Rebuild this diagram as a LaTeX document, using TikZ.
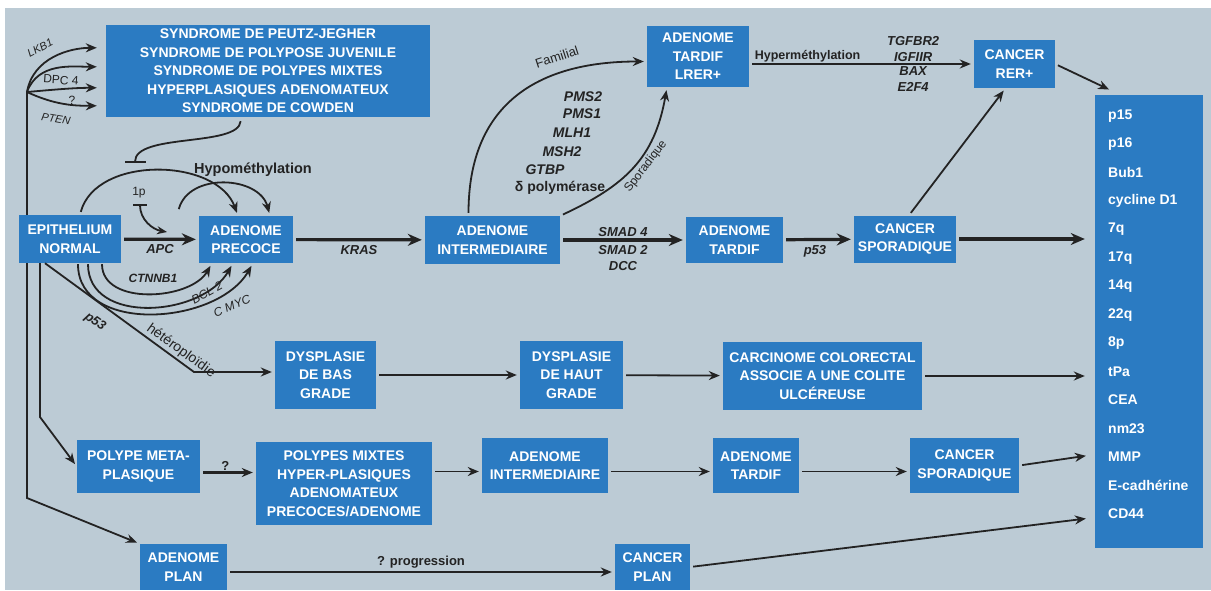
\documentclass[tikz,border=0pt]{standalone}
\usepackage{fontspec}
\setmainfont{Liberation Sans}
\usetikzlibrary{arrows.meta}
\definecolor{bgblue}{HTML}{BCCBD5}
\definecolor{boxblue}{HTML}{2B7BC2}
\definecolor{ink}{HTML}{232323}
\tikzset{stage/.style={fill=boxblue,text=white,align=center,inner sep=0pt,font=\fontsize{14}{18.5}\selectfont\bfseries}}
\tikzset{gene/.style={text=ink,align=center,inner sep=1pt,font=\fontsize{13}{16}\selectfont\bfseries\itshape}}
\tikzset{tag/.style={text=ink,inner sep=1pt,font=\fontsize{13}{16}\selectfont\bfseries}}
\tikzset{note/.style={text=ink,inner sep=1pt,font=\fontsize{12}{14}\selectfont}}
\tikzset{marker/.style={text=white,anchor=west,inner sep=0pt,font=\fontsize{14}{16}\selectfont\bfseries}}
\tikzset{transition/.style={color=ink,line width=1.8pt,-{Stealth[length=11pt,width=9pt]},shorten <=3pt,shorten >=3pt}}
\tikzset{major/.style={transition,line width=3.2pt,-{Stealth[length=14pt,width=12pt]}}}
\tikzset{inhibit/.style={color=ink,line width=1.8pt,-{Bar[width=21pt]}}}

\begin{document}
\begin{tikzpicture}[x=1pt,y=1pt]
  \useasboundingbox (0,0) rectangle (1211,-590);
  \fill[white] (0,0) rectangle (1211,-590);
  \fill[bgblue] (5,-8) rectangle (1211,-590);
  % stades
  \node[stage,minimum width=324pt,minimum height=92pt] (synd) at (268,-71)
    {SYNDROME DE PEUTZ-JEGHER\\SYNDROME DE POLYPOSE JUVENILE\\SYNDROME DE POLYPES MIXTES\\HYPERPLASIQUES ADENOMATEUX\\SYNDROME DE COWDEN};
  \node[stage,minimum width=102pt,minimum height=48pt] (epi) at (70,-239) {EPITHELIUM\\NORMAL};
  \node[stage,minimum width=94pt,minimum height=47pt] (precoce) at (246,-239.5) {ADENOME\\PRECOCE};
  \node[stage,minimum width=135pt,minimum height=48pt] (inter) at (492.5,-240) {ADENOME\\INTERMEDIAIRE};
  \node[stage,minimum width=97pt,minimum height=46pt] (tardif) at (734.5,-240) {ADENOME\\TARDIF};
  \node[stage,minimum width=102pt,minimum height=47pt] (spor) at (905,-239) {CANCER\\SPORADIQUE};
  \node[stage,minimum width=102pt,minimum height=61pt] (lrer) at (698,-56.5) {ADENOME\\TARDIF\\LRER+};
  \node[stage,minimum width=81pt,minimum height=48pt] (rer) at (1014.5,-64) {CANCER\\RER+};
  \node[stage,minimum width=108pt,minimum height=453pt] (col) at (1149,-321.5) {};
  \node[stage,minimum width=101pt,minimum height=68pt] (bas) at (325.5,-375) {DYSPLASIE\\DE BAS\\GRADE};
  \node[stage,minimum width=103pt,minimum height=68pt] (haut) at (571.5,-375) {DYSPLASIE\\DE HAUT\\GRADE};
  \node[stage,minimum width=199pt,minimum height=68pt] (carc) at (822.5,-376) {CARCINOME COLORECTAL\\ASSOCIE A UNE COLITE\\ULCÉREUSE};
  \node[stage,minimum width=123pt,minimum height=53pt] (meta) at (138.5,-466.5) {POLYPE META-\\PLASIQUE};
  \node[stage,minimum width=176pt,minimum height=83pt] (mixtes) at (344,-483.5) {POLYPES MIXTES\\HYPER-PLASIQUES\\ADENOMATEUX\\PRECOCES/ADENOME};
  \node[stage,minimum width=126pt,minimum height=55pt] (inter2) at (545,-465.5) {ADENOME\\INTERMEDIAIRE};
  \node[stage,minimum width=86pt,minimum height=55pt] (tardif2) at (756,-465.5) {ADENOME\\TARDIF};
  \node[stage,minimum width=109pt,minimum height=55pt] (spor2) at (964.5,-465.5) {CANCER\\SPORADIQUE};
  \node[stage,minimum width=87pt,minimum height=46pt] (plan) at (183.5,-567) {ADENOME\\PLAN};
  \node[stage,minimum width=75pt,minimum height=46pt] (cplan) at (652.5,-567) {CANCER\\PLAN};
  % marqueurs
  \foreach \m [count=\i from 0] in {p15,p16,Bub1,cycline D1,7q,17q,14q,22q,8p,tPa,CEA,nm23,MMP,E-cadhérine,CD44}
    \node[marker] (m\i) at (1108,{-116-28.4*\i}) {\m};
  % points libres
  \coordinate (fan) at (27,-92);
  \coordinate (turnA) at (27,-498);
  \coordinate (turnB) at (40,-417);
  \coordinate (kink) at (194,-372);
  \coordinate (hypo) at (178,-212);
  \coordinate (hypobar) at (135,-163);
  \coordinate (onep) at (140,-204);
  \coordinate (apc) at (167,-232);

  % syndromes
  \path[transition,shorten <=0pt,shorten >=9pt]
    (fan) edge[out=80,in=180] ([yshift=-23pt]synd.north west)
          edge[out=70,in=180] ([yshift=-42pt]synd.north west)
          edge[out=5,in=180] ([yshift=-63pt]synd.north west)
          edge[out=-25,in=180] ([yshift=-81pt]synd.north west);
  \node[note,font=\fontsize{11}{13}\selectfont\itshape,rotate=28] (lkb) at (40,-48) {LKB1};
  \node[note,rotate=-4] (dpc) at (61,-80) {DPC 4};
  \node[note] (qq) at (72,-100) {?};
  \node[note,font=\fontsize{11}{13}\selectfont\itshape,rotate=-10] (pten) at (56,-119) {PTEN};
  \draw[inhibit,shorten <=4pt] ([xshift=-27pt]synd.south) to[out=-95,in=90,looseness=0.67] (hypobar);

  % lignes de gauche
  \draw[color=ink,line width=1.8pt] (fan) -- (fan |- epi.north);
  \draw[transition,shorten <=0pt] (fan |- epi.south) -- (turnA) -- (plan.north west);
  \draw[transition,shorten <=0pt] ([xshift=-30pt]epi.south) -- (turnB) -- (meta.west);
  \draw[transition,shorten <=0pt] ([xshift=-25pt]epi.south) -- (kink) -- (kink -| bas.west);
  \node[gene,rotate=-36] (pfl) at (95,-322) {p53};
  \node[note,font=\fontsize{14}{16}\selectfont,rotate=-36] (het) at (181,-351) {hétéroploïdie};

  % voie principale
  \path[major]
    (epi) edge node[gene,below=3pt] (apclab) {APC} (precoce)
    (precoce) edge node[gene,below=3pt] {KRAS} (inter)
    (inter) edge node[gene,above=1pt] {SMAD 4} node[gene,below=3pt] {SMAD 2\\DCC} (tardif)
    (tardif) edge node[gene,below=3pt,pos=0.45] {p53} (spor)
    (spor) edge[shorten >=10pt] (spor -| col.west);

  % hypomethylation, 1p, oncogenes
  \path[transition]
    ([xshift=10pt]epi.north) edge[out=75,in=110] ([xshift=-8pt]precoce.north)
    (hypo) edge[out=75,in=105,looseness=1.15] ([xshift=24pt]precoce.north);
  \node[tag,font=\fontsize{14.5}{16}\selectfont\bfseries] (hypolab) at (253,-170) {Hypométhylation};
  \draw[color=ink,line width=1.8pt,{Bar[width=14pt]}-{Stealth[length=10pt,width=8pt]}] (onep) to[out=-90,in=170] (apc);
  \node[note] (onelab) at (139,-193) {1p};
  \path[transition,shorten <=1pt]
    ([xshift=32pt]epi.south) edge[out=-90,in=-120] ([xshift=-34pt]precoce.south)
    ([xshift=18pt]epi.south) edge[out=-90,in=-120,looseness=1.1] ([xshift=-13pt]precoce.south)
    ([xshift=8pt]epi.south) edge[out=-90,in=-120,looseness=1.05] ([xshift=7pt]precoce.south);
  \node[gene,font=\fontsize{12}{14}\selectfont\bfseries\itshape] (ctn) at (153,-278) {CTNNB1};
  \node[note,font=\fontsize{12}{14}\selectfont\itshape,rotate=29] (bcl) at (207,-293) {BCL 2};
  \node[note,font=\fontsize{12}{14}\selectfont\itshape,rotate=22] (myc) at (232,-306) {C MYC};

  % voie RER
  \path[transition]
    ([xshift=-24pt]inter.north) edge[out=90,in=180,looseness=1.2] ([yshift=-5pt]lrer.west)
    (inter.north east) edge[out=25,in=-100,looseness=1.1] node[note,sloped,below=2pt,pos=0.55] (spolab) {Sporadique} ([xshift=-31pt]lrer.south);
  \node[note,font=\fontsize{13}{15}\selectfont,rotate=18] (famlab) at (557,-57) {Familial};
  \foreach \g/\x/\y in {PMS2/583/97,PMS1/582/114,MLH1/572/133,MSH2/562/152,GTBP/545/170}
    \node[gene,font=\fontsize{14}{16}\selectfont\bfseries\itshape] (\g) at (\x,-\y) {\g};
  \node[tag,font=\fontsize{14}{16}\selectfont\bfseries] (delta) at (560,-188) {δ polymérase};
  \path[transition]
    (lrer.east |- rer.west) edge node[tag,font=\fontsize{12.5}{14}\selectfont\bfseries,above=0pt,pos=0.26] {Hyperméthylation}
        node[gene,above=0pt,pos=0.73] {TGFBR2\\IGFIIR} node[gene,below=1pt,pos=0.73] {BAX\\E2F4} (rer.west)
    ([xshift=4pt]spor.north) edge ([xshift=-9pt]rer.south)
    (rer.east) edge ([xshift=17pt,yshift=4pt]col.north west);

  % dysplasie
  \path[transition]
    (bas) edge (haut)
    (haut) edge (carc)
    (carc) edge[shorten >=10pt] (carc -| col.west);

  % polypes
  \path[transition]
    ([yshift=-6pt]meta.east) edge[line width=2.4pt] node[tag,above,pos=0.45] {?} ([yshift=-6pt]mixtes.west |- meta.east)
    ([yshift=-6pt]mixtes.east |- inter2.west) edge ([yshift=-6pt]inter2.west)
    ([yshift=-6pt]inter2.east) edge ([yshift=-6pt]tardif2.west)
    ([yshift=-6pt]tardif2.east) edge ([yshift=-6pt]spor2.west)
    (spor2.east) edge[shorten >=9pt] ([yshift=-133pt]col.west);

  % adenome plan
  \path[transition]
    ([yshift=-5pt]plan.east) edge node[tag,above=2pt] {? progression} ([yshift=-5pt]cplan.west)
    (cplan.east) edge[shorten >=9pt] ([yshift=-196pt]col.west);
\end{tikzpicture}
\end{document}
